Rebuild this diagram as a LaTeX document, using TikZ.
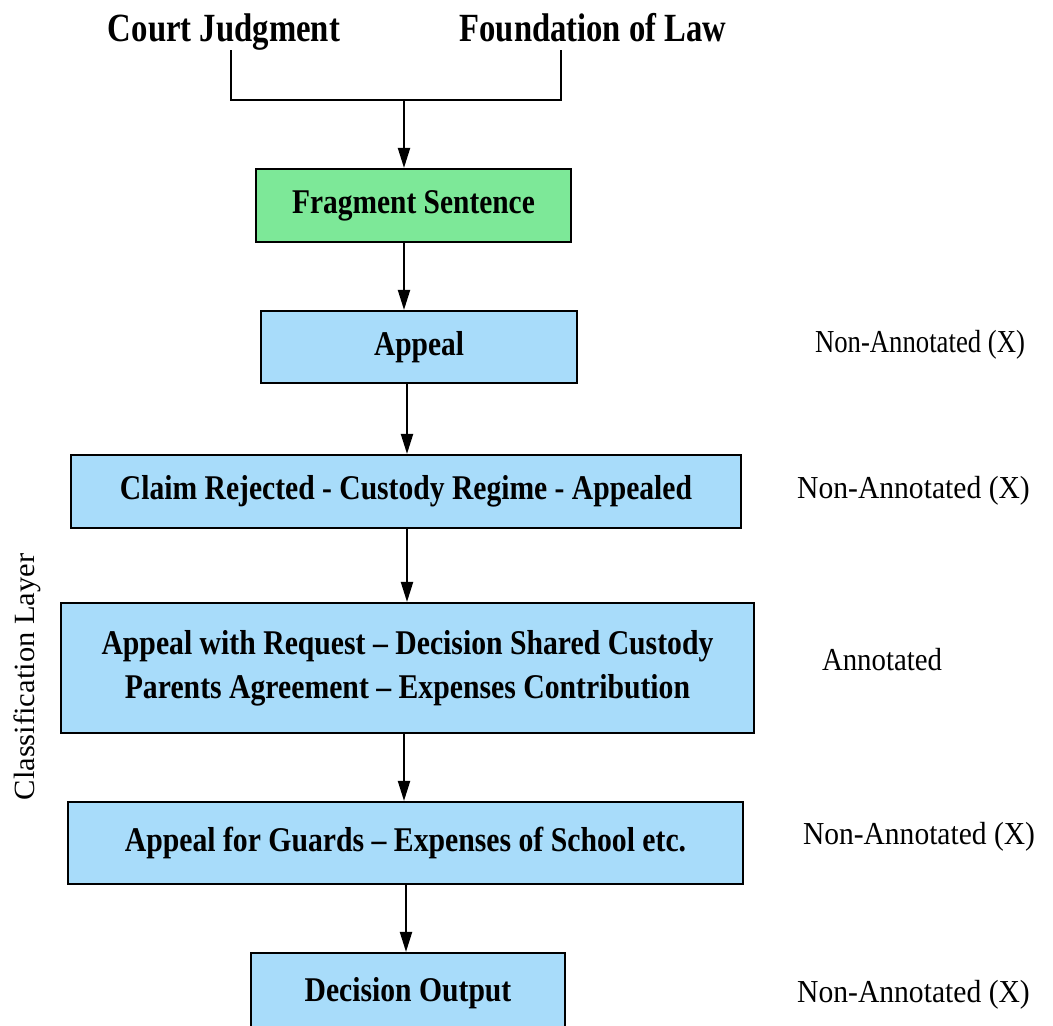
\documentclass[tikz,border=0pt]{standalone}
\usepackage{fontspec}
\setmainfont{Liberation Serif}
\usepackage{graphicx}
\usetikzlibrary{arrows.meta}
\definecolor{boxgreen}{RGB}{125,232,152}
\definecolor{boxblue}{RGB}{168,220,250}
\newcommand\fw[2]{\resizebox{#1pt}{\height}{#2}}
\begin{document}
\begin{tikzpicture}[x=0.75pt,y=-0.75pt,
  box/.style={draw=black, line width=1.6pt, inner sep=0pt, font=\bfseries\fontsize{26}{33}\selectfont, align=center},
  gbox/.style={box, fill=boxgreen},
  bbox/.style={box, fill=boxblue},
  sz/.style 2 args={minimum width=#1*0.75pt, minimum height=#2*0.75pt},
  head/.style={font=\bfseries\fontsize{30}{36}\selectfont, inner sep=0pt, anchor=base},
  side/.style={font=\fontsize{24}{29}\selectfont, inner sep=0pt},
  arr/.style={line width=1.5pt, -{Triangle[width=9pt,length=15pt]}},
  ln/.style={line width=1.5pt}
]
\useasboundingbox (0,0) rectangle (1053,1025);

\node[head] (cj) at (224,41) {\fw{174}{Court Judgment}};
\node[head] (fl) at (593,41) {\fw{200}{Foundation of Law}};

\node[gbox, sz={315}{73}] (frag) at (413.5,205.5) {\fw{182}{Fragment Sentence}};
\node[bbox, sz={316}{72}] (appeal) at (419,347) {\fw{67.5}{Appeal}};
\node[bbox, sz={670}{73}] (claim) at (406,491.5) {\fw{429}{Claim Rejected - Custody Regime - Appealed}};
\node[bbox, sz={693}{130}] (req) at (407.5,668) {\fw{459}{Appeal with Request -- Decision Shared Custody}\\\fw{424}{Parents Agreement -- Expenses Contribution}};
\node[bbox, sz={675}{82}] (guards) at (405.5,843) {\fw{421}{Appeal for Guards -- Expenses of School etc.}};
\node[bbox, sz={314}{80}] (dec) at (408,993) {\fw{155}{Decision Output}};

\node[side] (s1) at (920,345) {\fw{157.5}{Non-Annotated (X)}};
\node[side] (s2) at (913.5,491) {\fw{174.5}{Non-Annotated (X)}};
\node[side] (s3) at (882,660) {\fw{90}{Annotated}};
\node[side] (s4) at (919,837) {\fw{174}{Non-Annotated (X)}};
\node[side] (s5) at (913.5,995) {\fw{174.5}{Non-Annotated (X)}};

\node[font=\fontsize{22}{26}\selectfont, rotate=90, inner sep=0pt] (cl) at (27,677) {\resizebox{185pt}{\height}{Classification Layer}};

\coordinate (cjl) at (231,50);
\coordinate (fll) at (561,50);
\coordinate (jn) at (404,100);
\coordinate (a2) at (404,0);
\coordinate (a3) at (407,0);
\coordinate (a4) at (407,0);
\coordinate (a5) at (404,0);
\coordinate (a6) at (406,0);

\draw[ln] (cjl) |- (jn) -| (fll);
\draw[arr] (jn) -- (frag.north -| jn);
\draw[arr] (frag.south -| a2) -- (appeal.north -| a2);
\draw[arr] (appeal.south -| a3) -- (claim.north -| a3);
\draw[arr] (claim.south -| a4) -- (req.north -| a4);
\draw[arr] (req.south -| a5) -- (guards.north -| a5);
\draw[arr] (guards.south -| a6) -- (dec.north -| a6);
\end{tikzpicture}
\end{document}
